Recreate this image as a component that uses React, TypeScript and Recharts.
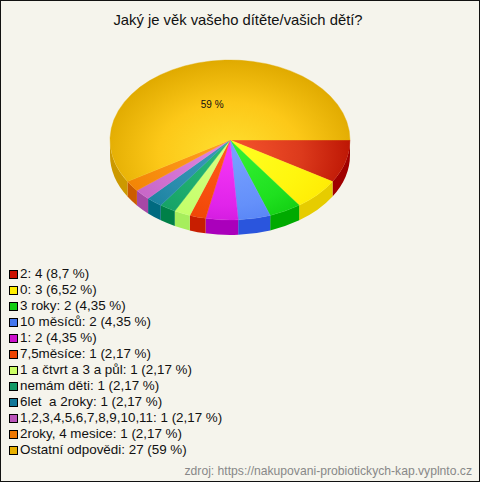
import { Legend, Pie, PieChart } from "recharts";

const categories = [
  "2", "0", "3 roky", "10 měsíců", "1", "7,5měsíce", "1 a čtvrt a 3 a půl", "nemám děti",
  "6let  a 2roky", "1,2,3,4,5,6,7,8,9,10,11", "2roky, 4 mesice", "Ostatní odpovědi",
];
const values = [4, 3, 2, 2, 2, 1, 1, 1, 1, 1, 1, 27];
const shares = ["8,7", "6,52", "4,35", "4,35", "4,35", "2,17", "2,17", "2,17", "2,17", "2,17", "2,17", "59"];
const legendColors = [
  "#cc1100", "#ffee00", "#11cc11", "#4477ee", "#cc11cc", "#ee4400",
  "#ccff66", "#119966", "#117799", "#bb55bb", "#ee7700", "#e8b000",
];
const innerColors = [
  "#f8562e", "#ffff22", "#33f033", "#77a0ff", "#f535f5", "#ff5a18",
  "#d8ff80", "#28b878", "#3a9ab8", "#e088e0", "#ffa020", "#ffe030",
];
const midColors = [
  "#dc3a1c", "#fff60e", "#1fe01f", "#6490fa", "#e024ea", "#f44c0c",
  "#c8ff70", "#1caa6c", "#2a8cac", "#d070d0", "#f88e10", "#fcc818",
];
const outerColors = [
  "#b81000", "#ffe600", "#08c008", "#4a78f0", "#c010d0", "#e84000",
  "#bcff60", "#109a60", "#107c98", "#c060c0", "#f08000", "#e0aa00",
];
const wallColors = [
  "#a00000", "#e6cc00", "#00aa00", "#2a55dd", "#aa00bb", "#c81e00",
  "#a6ee5c", "#008048", "#006a80", "#a648a6", "#cc5c00", "#cc9900",
];

const tableData = categories.map((name, i) => ({
  name,
  value: values[i],
  share: shares[i],
  fill: legendColors[i],
  index: i,
}));

const CX = 230;
const CY = 140;
const RX = 120;
const RY = 80;
const DEPTH = 15;
const RAD = Math.PI / 180;

function pointAt(angle: number, y: number) {
  // recharts angles run counter-clockwise, so flip them for screen space
  return [CX + RX * Math.cos(-angle * RAD), y + RY * Math.sin(-angle * RAD)];
}

function EllipseSector(props: any) {
  const { startAngle, endAngle, index } = props;
  const [x0, y0] = pointAt(startAngle, CY);
  const [x1, y1] = pointAt(endAngle, CY);
  const large = Math.abs(endAngle - startAngle) > 180 ? 1 : 0;
  const top = `M${CX},${CY}L${x0},${y0}A${RX},${RY} 0 ${large} 1 ${x1},${y1}Z`;

  // side wall only shows on the front half, clockwise angles 0..180
  const from = Math.max(-startAngle, 0);
  const to = Math.min(-endAngle, 180);
  let wall = null;
  if (to > from) {
    const [wx0, wy0] = pointAt(-from, CY);
    const [wx1, wy1] = pointAt(-to, CY);
    wall = (
      <path
        d={`M${wx0},${wy0}A${RX},${RY} 0 0 1 ${wx1},${wy1}L${wx1},${wy1 + DEPTH}A${RX},${RY} 0 0 0 ${wx0},${wy0 + DEPTH}Z`}
        fill={wallColors[index]}
      />
    );
  }
  return (
    <g>
      {wall}
      <path d={top} fill={`url(#slice${index})`} stroke={`url(#slice${index})`} strokeWidth={0.4} />
    </g>
  );
}

function renderLabel(props: any) {
  if (props.index !== categories.length - 1) return null;
  const x = CX + RX * 0.55 * Math.cos(-props.midAngle * RAD);
  const y = CY + RY * 0.465 * Math.sin(-props.midAngle * RAD);
  return (
    <text x={x} y={y} textAnchor="middle" dominantBaseline="central" fontSize={10} fill="#111">
      {props.share} %
    </text>
  );
}

function LegendList() {
  return (
    <div>
      {tableData.map((d) => (
        <div key={d.name} style={{ height: 16, lineHeight: "16px", whiteSpace: "pre", display: "flex", alignItems: "center" }}>
          <span
            style={{
              width: 7,
              height: 7,
              border: "1px solid #000",
              background: d.fill,
              marginRight: 2,
              flex: "none",
            }}
          />
          {`${d.name}: ${d.value} (${d.share} %)`}
        </div>
      ))}
    </div>
  );
}

export default function App() {
  return (
    <div
      style={{
        position: "fixed",
        left: 0,
        top: 0,
        width: 480,
        height: 482,
        boxSizing: "border-box",
        border: "1px solid #111",
        background: "#f5f4ec",
        fontFamily: "'Liberation Sans', Arial, sans-serif",
        overflow: "hidden",
      }}
    >
      <div style={{ position: "absolute", left: -1, top: -1, width: 480, height: 482 }}>
        <PieChart width={480} height={482} margin={{ top: 0, right: 0, bottom: 0, left: 0 }}>
          <defs>
            {categories.map((c, i) => (
              <radialGradient
                key={c}
                id={`slice${i}`}
                gradientUnits="userSpaceOnUse"
                cx={0}
                cy={0}
                r={1}
                gradientTransform={`translate(${CX} ${CY + 14}) scale(${RX + 10} ${RY + 14})`}
              >
                <stop offset="0%" stopColor={innerColors[i]} />
                <stop offset="55%" stopColor={midColors[i]} />
                <stop offset="100%" stopColor={outerColors[i]} />
              </radialGradient>
            ))}
          </defs>
          <Pie
            data={tableData}
            dataKey="value"
            nameKey="name"
            cx={CX}
            cy={CY}
            outerRadius={RX}
            startAngle={0}
            endAngle={-360}
            stroke="none"
            shape={EllipseSector}
            label={renderLabel}
            labelLine={false}
            isAnimationActive={false}
          />
          <text x={238} y={25} textAnchor="middle" fontSize={14.8} fill="#111">
            Jaký je věk vašeho dítěte/vašich dětí?
          </text>
          <text x={472} y={475} textAnchor="end" fontSize={12.15} fill="#888">
            zdroj: https://nakupovani-probiotickych-kap.vyplnto.cz
          </text>
          <Legend
            layout="vertical"
            align="left"
            verticalAlign="top"
            content={LegendList}
            wrapperStyle={{ left: 9, top: 266, width: 300, fontSize: 13.4, color: "#111" }}
          />
        </PieChart>
      </div>
    </div>
  );
}
